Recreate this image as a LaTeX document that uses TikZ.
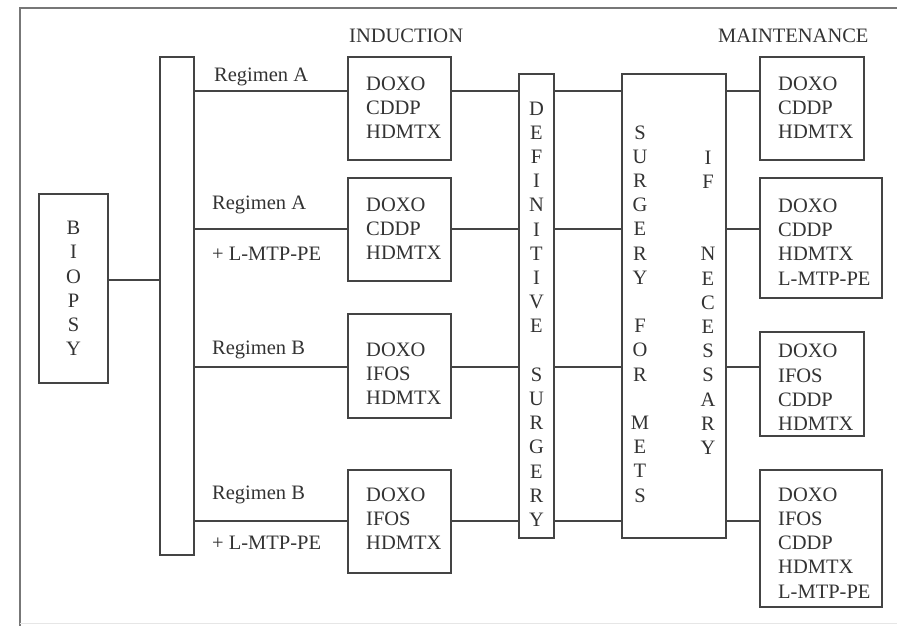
\documentclass[tikz,border=0pt]{standalone}
\usepackage{fontspec}
\setmainfont{Liberation Serif}
\definecolor{ink}{HTML}{333333}
\definecolor{wire}{HTML}{444444}
\definecolor{frame}{HTML}{777777}
\definecolor{faint}{HTML}{E6E6E6}
\begin{document}
\begin{tikzpicture}[x=1pt,y=-1pt,
  font=\fontsize{20.5}{24.2}\selectfont,
  every node/.style={text=ink},
  box/.style={draw=wire,line width=1.4pt,inner sep=0pt},
  drug/.style={box,align=left,anchor=north west,text width=#1,inner xsep=0pt},
  col/.style={align=center,inner sep=0pt},
  wireline/.style={draw=wire,line width=1.4pt},
  hdr/.style={inner sep=0pt}]
\useasboundingbox (0,0) rectangle (897,626);
% frame
\draw[frame,line width=2pt] (20,626) -- (20,8) -- (897,8);
\draw[faint,line width=1pt] (20,623) -- (897,623);
% headers
\node[hdr,anchor=west] (ind) at (349,36) {INDUCTION};
\node[hdr,anchor=west] (mnt) at (718,36) {MAINTENANCE};
% biopsy
\node[box,minimum width=69,minimum height=189] (bio) at (73.5,288.5) {};
\node[col] (biot) at (73.5,288.5) {B\\I\\O\\P\\S\\Y};
% splitter bar
\node[box,minimum width=34,minimum height=498] (bar) at (177,306) {};
% induction boxes
\node[box,minimum width=103,minimum height=103] (i1) at (399.5,108.5) {};
\node[box,minimum width=103,minimum height=103] (i2) at (399.5,229.5) {};
\node[box,minimum width=103,minimum height=104] (i3) at (399.5,366) {};
\node[box,minimum width=103,minimum height=103] (i4) at (399.5,521.5) {};
\node[col,align=left,anchor=west] (i1t) at (366,108) {DOXO\\CDDP\\HDMTX};
\node[col,align=left,anchor=west] (i2t) at (366,229) {DOXO\\CDDP\\HDMTX};
\node[col,align=left,anchor=west] (i3t) at (366,374) {DOXO\\IFOS\\HDMTX};
\node[col,align=left,anchor=west] (i4t) at (366,519) {DOXO\\IFOS\\HDMTX};
% definitive surgery bar
\node[box,minimum width=35,minimum height=464] (def) at (536.5,306) {};
\node[col] (deft) at (536.5,314) {D\\E\\F\\I\\N\\I\\T\\I\\V\\E\\~\\S\\U\\R\\G\\E\\R\\Y};
% surgery for mets box
\node[box,minimum width=104,minimum height=464] (sfm) at (674,306) {};
\node[col] (sfmt) at (640,314) {S\\U\\R\\G\\E\\R\\Y\\~\\F\\O\\R\\~\\M\\E\\T\\S};
\node[col] (ifn) at (708,302.5) {I\\F\\~\\~\\N\\E\\C\\E\\S\\S\\A\\R\\Y};
% maintenance boxes
\node[box,minimum width=104,minimum height=103] (m1) at (812,108.5) {};
\node[box,minimum width=122,minimum height=120] (m2) at (821,238) {};
\node[box,minimum width=104,minimum height=104] (m3) at (812,384) {};
\node[box,minimum width=122,minimum height=137] (m4) at (821,538.5) {};
\node[col,align=left,anchor=west] (m1t) at (778,108) {DOXO\\CDDP\\HDMTX};
\node[col,align=left,anchor=west] (m2t) at (778,242) {DOXO\\CDDP\\HDMTX\\L-MTP-PE};
\node[col,align=left,anchor=west] (m3t) at (778,387.5) {DOXO\\IFOS\\CDDP\\HDMTX};
\node[col,align=left,anchor=west] (m4t) at (778,543) {DOXO\\IFOS\\CDDP\\HDMTX\\L-MTP-PE};
% regimen labels
\node[hdr,anchor=west] (la1) at (214,77) {Regimen A};
\node[hdr,anchor=west] (la2) at (212,205) {Regimen A};
\node[hdr,anchor=west] (lp2) at (212,254) {+ L-MTP-PE};
\node[hdr,anchor=west] (lb3) at (212,350) {Regimen B};
\node[hdr,anchor=west] (lb4) at (212,495) {Regimen B};
\node[hdr,anchor=west] (lp4) at (212,543) {+ L-MTP-PE};
% connectors
\draw[wireline] (bio.east |- 0,280) -- (bar.west |- 0,280);
\foreach \r/\yy/\m in {1/91/m1,2/229/m2,3/367/m3,4/521/m4}{
  \draw[wireline] (bar.east |- 0,\yy) -- (i\r.west |- 0,\yy);
  \draw[wireline] (i\r.east |- 0,\yy) -- (def.west |- 0,\yy);
  \draw[wireline] (def.east |- 0,\yy) -- (sfm.west |- 0,\yy);
  \draw[wireline] (sfm.east |- 0,\yy) -- (\m.west |- 0,\yy);
}
\end{tikzpicture}
\end{document}
